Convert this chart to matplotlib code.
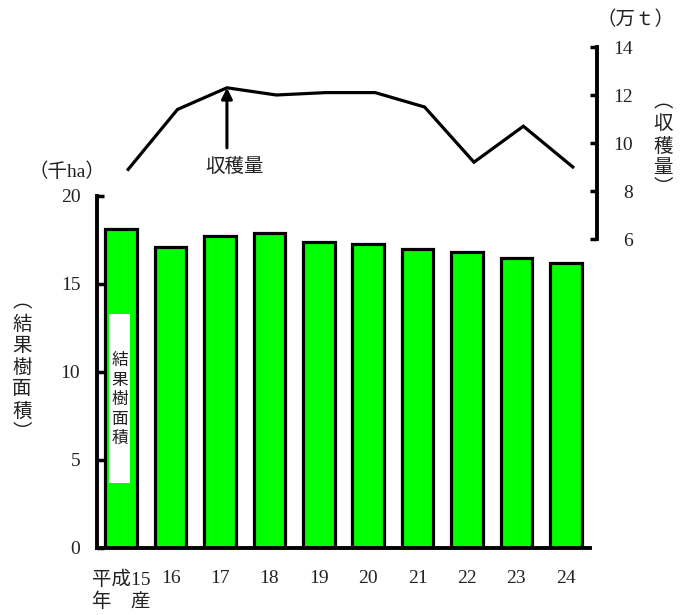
import matplotlib
matplotlib.use("Agg")
import matplotlib.pyplot as plt

plt.rcParams['font.family'] = ['Liberation Serif', 'Noto Sans CJK JP']
plt.rcParams['font.size'] = 14

# 年産ごとの結果樹面積（千ha）と収穫量（万t）
years = ['平成15\n年\u3000産', '16', '17', '18', '19', '20', '21', '22', '23', '24']
area = [18.1, 17.1, 17.7, 17.9, 17.4, 17.3, 17.0, 16.8, 16.5, 16.2]
harvest = [8.9, 11.4, 12.3, 12.0, 12.1, 12.1, 11.5, 9.2, 10.7, 9.0]
left_ticks = [0, 5, 10, 15, 20]
right_ticks = [6, 8, 10, 12, 14]

txt = '#222222'
W, H = 688, 615
fig = plt.figure(figsize=(W / 100, H / 100), dpi=100)

# 棒グラフ（結果樹面積）
ax1 = fig.add_axes([97 / W, 67 / H, 493 / W, 352 / H])
x = range(len(years))
ax1.bar(x, area, width=0.64, color='#00ff00', edgecolor='black', linewidth=2.3, zorder=2)
ax1.set_xlim(-0.49, 9.49)
ax1.set_ylim(0, 20)
ax1.set_yticks(left_ticks)
ax1.set_xticks(list(x))
ax1.set_xticklabels(years, color=txt, linespacing=1.3)
ax1.tick_params(axis='x', length=0, pad=16)
ax1.tick_params(axis='y', direction='in', length=5, width=2.5, pad=12, labelcolor=txt)
for s in ['top', 'right']:
    ax1.spines[s].set_visible(False)
for s in ['left', 'bottom']:
    ax1.spines[s].set_linewidth(2.8)
ax1.patch.set_alpha(0)

# 棒の中の系列名
ax1.add_patch(plt.Rectangle((-0.24, 3.7), 0.42, 9.6, facecolor='white', edgecolor='none', zorder=3))
ax1.text(-0.03, 8.4, '\n'.join('結果樹面積'), ha='center', va='center', color=txt,
         fontsize=12, linespacing=1.3, zorder=4)

# 折れ線グラフ（収穫量）
ax2 = fig.add_axes([97 / W, 376 / H, 500 / W, 192 / H])
ax2.plot(x, harvest, color='black', linewidth=2.3, solid_joinstyle='miter')
ax2.set_xlim(-0.63, 9.49)
ax2.set_ylim(6, 14)
ax2.set_yticks(right_ticks)
ax2.yaxis.tick_right()
ax2.tick_params(axis='y', direction='in', length=5, width=2.5, pad=26, labelcolor=txt)
for lab in ax2.get_yticklabels():
    lab.set_horizontalalignment('right')
ax2.set_xticks([])
for s in ['top', 'left', 'bottom']:
    ax2.spines[s].set_visible(False)
ax2.spines['right'].set_linewidth(2.8)
ax2.patch.set_alpha(0)

ax2.annotate('', xy=(2, harvest[2]), xytext=(2, 9.8),
             arrowprops=dict(arrowstyle='-|>', color='black', lw=2.2, mutation_scale=16,
                             shrinkA=0, shrinkB=0))
ax2.text(2.15, 9.0, '収穫量', ha='center', va='center', color=txt)

# 単位と軸ラベル
fig.text(67 / W, 1 - 172 / H, '（千ha）', ha='center', va='center', color=txt)
fig.text(635 / W, 1 - 20 / H, '（万ｔ）', ha='center', va='center', color=txt)
fig.text(22 / W, 1 - 368 / H, '\n'.join('︵結果樹面積︶'), ha='center', va='center',
         color=txt, linespacing=1.3)
fig.text(663 / W, 1 - 146 / H, '\n'.join('︵収穫量︶'), ha='center', va='center',
         color=txt, linespacing=1.3)

fig.savefig('out.png', dpi=100)
